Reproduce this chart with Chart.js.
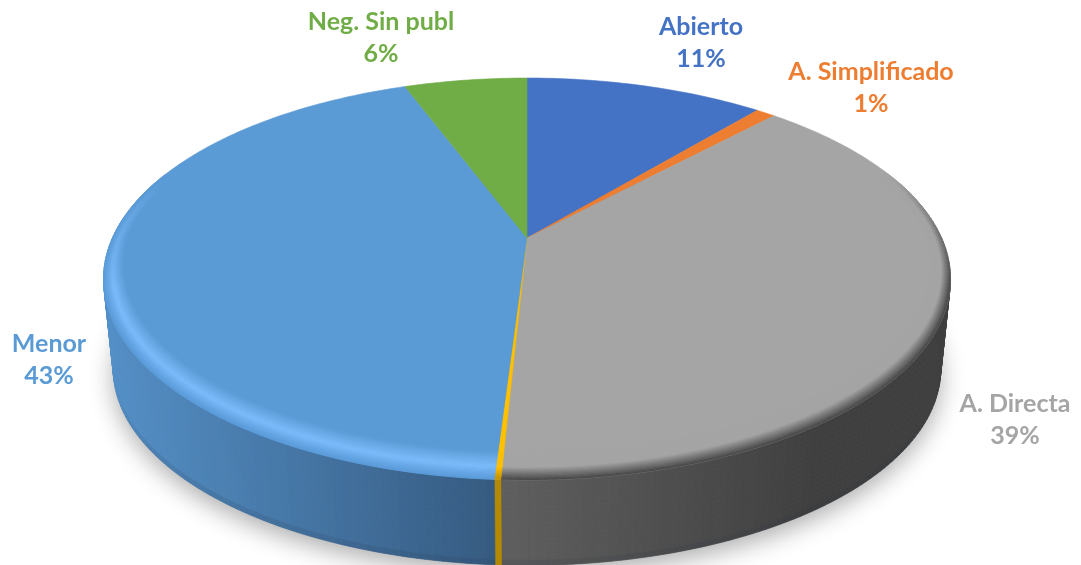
<!DOCTYPE html>
<html>
<head>
<meta charset="utf-8">
<script src="https://cdn.jsdelivr.net/npm/chart.js@4"></script>
<style>
  html, body { margin: 0; padding: 0; background: #fff; overflow: hidden; }
  canvas { display: block; }
</style>
</head>
<body>
<canvas id="pieChart" width="1081" height="565"></canvas>
<script>
const categories = ['Abierto', 'A. Simplificado', 'A. Directa', '', 'Menor', 'Neg. Sin publ'];
const shares = [11.1, 0.9, 38.8, 0.2, 43.3, 5.7];

const topColors = ['#4472c4', '#ed7d31', '#a5a5a5', '#ffc000', '#5b9bd5', '#70ad47'];
const rimLight = ['#4472c4', '#ed7d31', '#a5a5a5', '#ffc000', '#7cbcfc', '#70ad47'];
const rimEdge = ['#3a62a8', '#c96a2a', '#464646', '#c09000', '#5a9ad8', '#5f9340'];
const sideLeft = ['#3a62a8', '#c96a2a', '#5f5f5f', '#b58a00', '#5490c8', '#5f9340'];
const sideRight = ['#2b4a80', '#9a5220', '#3f3f3f', '#b58a00', '#355a80', '#4a7530'];
const labelPlaces = [[701, 27], [871, 72], [1015, 404], null, [49, 344], [381, 22]];

// projection of the flat pie onto the tilted disc
const cx = 527, cy = 238, tilt = -0.204, halfW = 414.6, halfH = 192.6;
const depth = 91, bottomScale = 0.977;

function project(r, angle) {
  const u = r * Math.cos(angle), v = r * Math.sin(angle);
  const d = 1 + tilt * v;
  return [cx + halfW * u / d, cy + halfH * v / d];
}

function projectBottom(angle) {
  const p = project(1, angle);
  return [cx + bottomScale * (p[0] - cx), cy + depth + bottomScale * (p[1] - cy)];
}

function toRgb(hex) {
  return [1, 3, 5].map(i => parseInt(hex.substr(i, 2), 16));
}

function mix(a, b, t) {
  const c1 = toRgb(a), c2 = toRgb(b);
  const c = c1.map((x, i) => Math.round(x + (c2[i] - x) * t));
  return '#' + c.map(x => x.toString(16).padStart(2, '0')).join('');
}

function clamp(x) {
  return Math.max(0, Math.min(1, x));
}

function fillPoly(ctx, pts, color) {
  ctx.beginPath();
  pts.forEach((p, i) => i ? ctx.lineTo(p[0], p[1]) : ctx.moveTo(p[0], p[1]));
  ctx.closePath();
  ctx.fillStyle = color;
  ctx.strokeStyle = color;
  ctx.lineWidth = 0.6;
  ctx.fill();
  ctx.stroke();
}

function drawShadow(ctx) {
  const pts = [];
  for (let i = 0; i < 360; i++) pts.push(projectBottom(i * Math.PI / 180));
  ctx.save();
  ctx.shadowColor = 'rgba(0,0,0,0.32)';
  ctx.shadowBlur = 24;
  ctx.shadowOffsetY = 8;
  ctx.beginPath();
  pts.forEach((p, i) => i ? ctx.lineTo(p[0], p[1]) : ctx.moveTo(p[0], p[1]));
  ctx.closePath();
  ctx.fillStyle = '#888';
  ctx.fill();
  ctx.restore();
}

function segments(arc) {
  const n = Math.max(2, Math.ceil((arc.endAngle - arc.startAngle) / (Math.PI / 180)));
  const list = [];
  for (let i = 0; i <= n; i++) list.push(arc.startAngle + (arc.endAngle - arc.startAngle) * i / n);
  return list;
}

function drawSide(ctx, arc, idx) {
  const steps = 16;
  const angles = segments(arc);
  for (let i = 0; i < angles.length - 1; i++) {
    const a1 = angles[i], a2 = angles[i + 1];
    const v = Math.sin((a1 + a2) / 2);
    if (v < -0.3) continue;
    const t1 = project(1, a1), t2 = project(1, a2);
    const b1 = projectBottom(a1), b2 = projectBottom(a2);
    const x = (t1[0] + t2[0]) / 2;
    let f;
    if (idx === 4) f = clamp((x - 103) / 397);
    else f = clamp((x - 500) / 320);
    const base = mix(sideLeft[idx], sideRight[idx], f);
    // dark soft line along the front of the lower edge
    const edge = idx === 3 ? 0 : clamp((v - 0.2) / 0.4) * 0.55;
    for (let s = 0; s < steps; s++) {
      const k1 = s / steps, k2 = (s + 1) / steps;
      const col = mix(base, '#1c2c40', clamp((k1 - 0.92) / 0.08) * edge);
      fillPoly(ctx, [
        [t1[0] + (b1[0] - t1[0]) * k1, t1[1] + (b1[1] - t1[1]) * k1],
        [t2[0] + (b2[0] - t2[0]) * k1, t2[1] + (b2[1] - t2[1]) * k1],
        [t2[0] + (b2[0] - t2[0]) * k2, t2[1] + (b2[1] - t2[1]) * k2],
        [t1[0] + (b1[0] - t1[0]) * k2, t1[1] + (b1[1] - t1[1]) * k2]
      ], col);
    }
  }
}

function drawTop(ctx, arc, idx) {
  const pts = [[cx, cy]];
  segments(arc).forEach(a => pts.push(project(1, a)));
  fillPoly(ctx, pts, topColors[idx]);
}

function rimColor(idx, t, w) {
  let c;
  if (t < 0.55) c = mix(topColors[idx], rimLight[idx], t / 0.55);
  else c = mix(rimLight[idx], rimEdge[idx], (t - 0.55) / 0.45);
  return mix(topColors[idx], c, w);
}

function drawRim(ctx, arc, idx) {
  const rings = 24;
  const angles = segments(arc);
  for (let i = 0; i < angles.length - 1; i++) {
    const a1 = angles[i], a2 = angles[i + 1];
    const v = Math.sin((a1 + a2) / 2);
    const w = clamp((v + 0.35) / 0.6);
    if (w <= 0) continue;
    const band = 0.035 + 0.06 * Math.max(0, v);
    for (let r = 0; r < rings; r++) {
      const r1 = 1 - band * (1 - r / rings), r2 = 1 - band * (1 - (r + 1) / rings);
      fillPoly(ctx, [project(r1, a1), project(r1, a2), project(r2, a2), project(r2, a1)],
        rimColor(idx, (r + 0.5) / rings, w));
    }
  }
}

const tiltedPie = {
  id: 'tiltedPie',
  beforeDatasetDraw(chart) {
    const ctx = chart.ctx;
    const arcs = chart.getDatasetMeta(0).data;
    ctx.save();
    drawShadow(ctx);
    arcs.forEach((arc, i) => drawSide(ctx, arc, i));
    arcs.forEach((arc, i) => drawTop(ctx, arc, i));
    arcs.forEach((arc, i) => drawRim(ctx, arc, i));
    ctx.restore();
    return false;
  },
  afterDraw(chart) {
    const ctx = chart.ctx;
    const total = shares.reduce((a, b) => a + b, 0);
    ctx.save();
    ctx.font = 'bold 25px Lato';
    ctx.textAlign = 'center';
    ctx.textBaseline = 'middle';
    categories.forEach((name, i) => {
      if (!labelPlaces[i]) return;
      ctx.fillStyle = topColors[i];
      ctx.fillText(name, labelPlaces[i][0], labelPlaces[i][1]);
      ctx.fillText(Math.round(shares[i] / total * 100) + '%', labelPlaces[i][0], labelPlaces[i][1] + 32);
    });
    ctx.restore();
  }
};

new Chart(document.getElementById('pieChart').getContext('2d'), {
  type: 'pie',
  data: {
    labels: categories,
    datasets: [{
      data: shares,
      backgroundColor: topColors,
      borderWidth: 0
    }]
  },
  options: {
    responsive: false,
    animation: false,
    plugins: {
      legend: { display: false },
      tooltip: { enabled: false }
    }
  },
  plugins: [tiltedPie]
});
</script>
</body>
</html>
